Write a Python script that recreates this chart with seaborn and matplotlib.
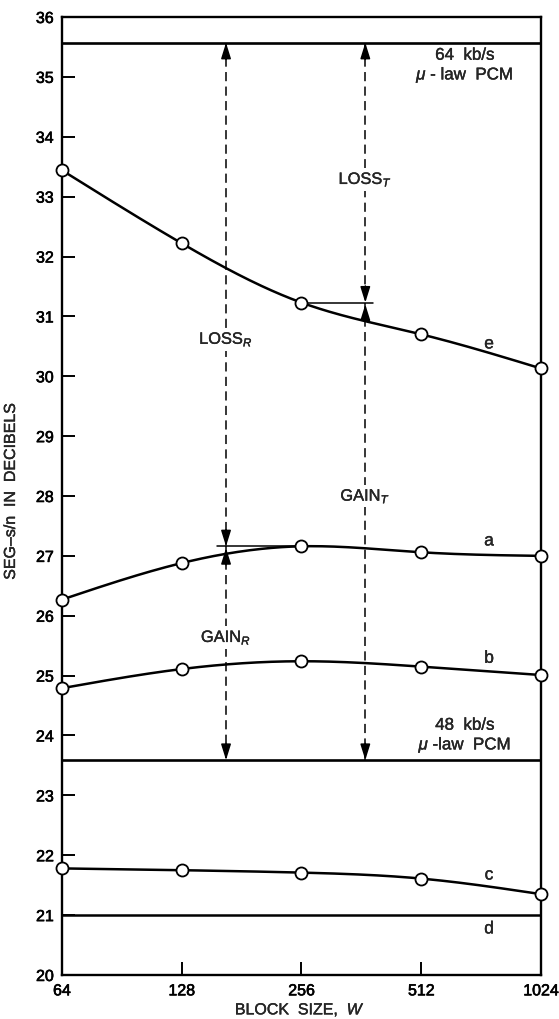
import numpy as np
import pandas as pd
import matplotlib
matplotlib.use("Agg")
import matplotlib.pyplot as plt
import matplotlib.patheffects as pe
import seaborn as sns

# Block sizes (x axis, log2 spaced)
block_sizes = [64, 128, 256, 512, 1024]
tick_labels = ["64", "128", "256", "512", "1024"]

# SEG-s/n (dB) for each coder configuration
curve_e = [33.44, 32.22, 31.23, 30.70, 30.13]
curve_a = [26.27, 26.88, 27.16, 27.06, 27.00]
curve_b = [24.79, 25.11, 25.24, 25.15, 25.01]
curve_c = [21.78, 21.75, 21.71, 21.61, 21.35]
level_d = 21.0

# Reference PCM levels (dB)
pcm_64 = 35.57
pcm_48 = 23.59

# Where the gain/loss arrows stand on the block-size axis
arrow_r_x = 165.4
arrow_t_x = 370.4

sns.set_theme(style="ticks")
plt.rcParams["font.family"] = ["Liberation Sans", "DejaVu Sans"]
plt.rcParams["mathtext.fontset"] = "custom"
plt.rcParams["mathtext.rm"] = "Liberation Sans"
plt.rcParams["mathtext.it"] = "Liberation Sans:italic"
plt.rcParams["mathtext.bf"] = "Liberation Sans:bold"

heavy = [pe.withStroke(linewidth=0.45, foreground="black")]
light = [pe.withStroke(linewidth=0.25, foreground="black")]


def natural_spline(xs, ys, n=200):
    """Smooth curve through the points, in log2(x) space."""
    t = np.log2(np.asarray(xs, float))
    y = np.asarray(ys, float)
    k = len(t)
    h = np.diff(t)
    A = np.zeros((k, k))
    r = np.zeros(k)
    A[0, 0] = A[-1, -1] = 1.0
    for i in range(1, k - 1):
        A[i, i - 1] = h[i - 1]
        A[i, i] = 2 * (h[i - 1] + h[i])
        A[i, i + 1] = h[i]
        r[i] = 6 * ((y[i + 1] - y[i]) / h[i] - (y[i] - y[i - 1]) / h[i - 1])
    M = np.linalg.solve(A, r)
    tt = np.linspace(t[0], t[-1], n)
    out = np.empty_like(tt)
    for j, v in enumerate(tt):
        i = min(np.searchsorted(t, v, side="right") - 1, k - 2)
        a, b = t[i], t[i + 1]
        hi = b - a
        out[j] = (M[i] * (b - v) ** 3 / (6 * hi) + M[i + 1] * (v - a) ** 3 / (6 * hi)
                  + (y[i] / hi - M[i] * hi / 6) * (b - v)
                  + (y[i + 1] / hi - M[i + 1] * hi / 6) * (v - a))
    return 2 ** tt, out


fig = plt.figure(figsize=(5.59, 10.19), dpi=100)
ax = fig.add_axes([0.1109, 0.0432, 0.8569, 0.9401])

curves = {"e": curve_e, "a": curve_a, "b": curve_b, "c": curve_c}
for name, vals in curves.items():
    sx, sy = natural_spline(block_sizes, vals)
    sns.lineplot(x=sx, y=sy, ax=ax, color="black", lw=1.8, sort=False, zorder=3)

# d is flat
sns.lineplot(x=[block_sizes[0], block_sizes[-1]], y=[level_d, level_d], ax=ax,
             color="black", lw=1.8, zorder=3)

# PCM reference lines
for lvl in (pcm_64, pcm_48):
    ax.axhline(lvl, color="black", lw=1.9, zorder=3)

# Data markers
pts = pd.DataFrame({
    "x": block_sizes * 4,
    "y": curve_e + curve_a + curve_b + curve_c,
})
sns.scatterplot(data=pts, x="x", y="y", ax=ax, marker="o", s=75,
                facecolor="white", edgecolor="black", linewidth=1.3,
                zorder=5, clip_on=False)

# Horizontal reference ticks for the gain/loss split
ax.plot([157, 256], [max(curve_a)] * 2, color="black", lw=1.1, zorder=4)
ax.plot([256, 387], [curve_e[2]] * 2, color="black", lw=1.1, zorder=4)

dash = (0, (6, 3.5))


def arrow_head(x, y, direction):
    off = 12 if direction == "down" else -12
    ax.annotate("", xy=(x, y), xytext=(0, off), textcoords="offset points",
                arrowprops=dict(arrowstyle="-|>,head_length=0.8,head_width=0.25",
                                color="black", lw=1.1, shrinkA=0, shrinkB=0),
                zorder=6)


def gain_loss(x, level, loss_y, gain_y, loss_txt, gain_txt):
    ax.plot([x, x], [pcm_64, level], color="black", lw=1.1, ls=dash, zorder=2)
    ax.plot([x, x], [level, pcm_48], color="black", lw=1.1, ls=dash, zorder=2)
    arrow_head(x, pcm_64, "up")
    arrow_head(x, level, "down")
    arrow_head(x, level - 0.03, "up")
    arrow_head(x, pcm_48, "down")
    for yy, txt in ((loss_y, loss_txt), (gain_y, gain_txt)):
        ax.text(x, yy, txt, ha="center", va="center", fontsize=11.8,
                path_effects=light,
                bbox=dict(facecolor="white", edgecolor="none", pad=1.5), zorder=4)


gain_loss(arrow_r_x, max(curve_a), 30.62, 25.64, r"LOSS$_{R}$", r"GAIN$_{R}$")
gain_loss(arrow_t_x, curve_e[2], 33.29, 28.0, r"LOSS$_{T}$", r"GAIN$_{T}$")

# Annotations
ax.text(659, 35.18, "64  kb/s\n$\\mu$ - law  PCM", ha="center", va="center",
        fontsize=12.2, linespacing=1.2, path_effects=light)
ax.text(659, 23.99, "48  kb/s\n$\\mu$ -law  PCM", ha="center", va="center",
        fontsize=12.2, linespacing=1.2, path_effects=light)
for lbl, yy in (("e", 30.54), ("a", 27.25), ("b", 25.29), ("c", 21.67), ("d", 20.77)):
    ax.text(758, yy, lbl, ha="center", va="center", fontsize=12.5, path_effects=light)

# Axes
ax.set_xscale("log", base=2)
ax.set_xlim(64, 1024)
ax.set_ylim(20, 36)
ax.set_xticks(block_sizes)
ax.set_xticklabels(tick_labels)
ax.xaxis.set_minor_locator(matplotlib.ticker.NullLocator())
ax.set_yticks(range(20, 37))
ax.tick_params(direction="in", length=9.5, width=1.4, labelsize=11.5, pad=6,
               color="black", labelcolor="black")
for lab in ax.get_xticklabels() + ax.get_yticklabels():
    lab.set_path_effects(heavy)
for sp in ax.spines.values():
    sp.set_visible(True)
    sp.set_linewidth(1.7)
    sp.set_color("black")

ax.set_xlabel(r"BLOCK  SIZE,  $W$", fontsize=11.5, path_effects=light)
ax.set_ylabel("SEG–s/n  IN  DECIBELS", fontsize=11.5, path_effects=light)
ax.xaxis.set_label_coords(0.497, -0.0265)
ax.yaxis.set_label_coords(-0.0919, 0.505)

fig.savefig("out.png", dpi=100)
